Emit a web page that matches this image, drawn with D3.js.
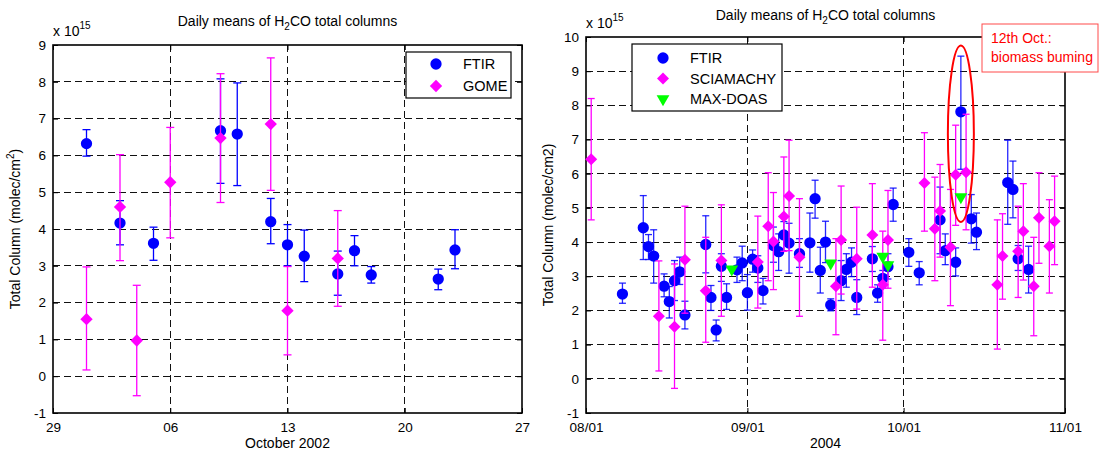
<!DOCTYPE html>
<html>
<head>
<meta charset="utf-8">
<script src="https://cdn.jsdelivr.net/npm/d3@7"></script>
<style>
  body { margin: 0; background: #fff; }
  svg { display: block; font-family: "Liberation Sans", Arial, Helvetica, sans-serif; }
  .grid line { stroke: #111; stroke-dasharray: 7,4; stroke-width: 1; shape-rendering: crispEdges; }
  .axis path, .axis line { stroke: #000; }
  .axis text { font-size: 13.5px; fill: #000; }
</style>
</head>
<body>
<div id="chart"></div>
<script>
// ---- left panel: October 2002 ----
var octFtirDates = ['2002-10-01','2002-10-03','2002-10-05','2002-10-09','2002-10-10','2002-10-12','2002-10-13','2002-10-14','2002-10-16','2002-10-17','2002-10-18','2002-10-22','2002-10-23'];
var octFtirValues = [6.32, 4.16, 3.61, 6.67, 6.58, 4.20, 3.57, 3.26, 2.78, 3.41, 2.75, 2.64, 3.43];
var octFtirLow    = [5.98, 3.57, 3.15, 5.24, 5.18, 3.60, 3.00, 2.57, 2.20, 3.00, 2.53, 2.35, 2.92];
var octFtirHigh   = [6.70, 4.77, 4.05, 8.08, 7.97, 4.83, 4.12, 3.97, 3.40, 3.82, 2.98, 2.91, 3.98];

var gomeDates  = ['2002-10-01','2002-10-03','2002-10-04','2002-10-06','2002-10-09','2002-10-12','2002-10-13','2002-10-16'];
var gomeValues = [1.55, 4.60, 0.97, 5.27, 6.47, 6.85, 1.78, 3.20];
var gomeLow    = [0.17, 3.14, -0.53, 3.76, 4.72, 5.05, 0.58, 1.90];
var gomeHigh   = [2.97, 6.02, 2.47, 6.76, 8.22, 8.65, 2.98, 4.50];

var octTicks = ['2002-09-29','2002-10-06','2002-10-13','2002-10-20','2002-10-27'];
var octYTicks = [-1, 0, 1, 2, 3, 4, 5, 6, 7, 8, 9];

// ---- right panel: Aug-Oct 2004 ----
var ftirDates = ['2004-08-08','2004-08-12','2004-08-13','2004-08-14','2004-08-16','2004-08-17','2004-08-18','2004-08-19','2004-08-20',
  '2004-08-24','2004-08-25','2004-08-26','2004-08-27','2004-08-28','2004-08-30','2004-08-31','2004-09-01','2004-09-02','2004-09-03',
  '2004-09-04','2004-09-06','2004-09-07','2004-09-08','2004-09-09','2004-09-11','2004-09-13','2004-09-14','2004-09-15','2004-09-16',
  '2004-09-17','2004-09-19','2004-09-20','2004-09-21','2004-09-22','2004-09-25','2004-09-26','2004-09-27','2004-09-28','2004-09-29',
  '2004-10-02','2004-10-04','2004-10-08','2004-10-09','2004-10-11','2004-10-12','2004-10-14','2004-10-15','2004-10-21','2004-10-22',
  '2004-10-23','2004-10-25'];
var ftirValues = [2.48, 4.42, 3.87, 3.59, 2.71, 2.26, 2.87, 3.13, 1.87,
  3.93, 2.38, 1.43, 3.29, 2.38, 3.19, 3.39, 2.52, 3.50, 3.24,
  2.58, 3.90, 3.72, 4.21, 3.97, 3.66, 3.98, 5.27, 3.17, 4.00,
  2.16, 2.87, 3.20, 3.41, 2.38, 3.51, 2.51, 2.94, 3.28, 5.10,
  3.70, 3.10, 4.65, 3.75, 3.41, 7.81, 4.68, 4.29, 5.74, 5.54,
  3.51, 3.20];
var ftirLow = [2.21, 3.49, 3.49, 2.80, 2.40, 1.78, 2.29, 2.76, 1.46,
  3.10, 2.00, 1.11, 2.85, 2.03, 2.82, 2.87, 2.01, 3.12, 2.82,
  2.19, 3.41, 3.17, 3.75, 3.09, 3.26, 3.12, 4.70, 2.51, 3.40,
  1.99, 2.29, 2.68, 2.99, 1.88, 3.14, 2.24, 2.66, 2.92, 4.61,
  3.29, 2.75, 3.66, 3.34, 3.01, 6.13, 3.97, 3.78, 4.52, 4.71,
  3.17, 2.51];
var ftirHigh = [2.80, 5.36, 4.22, 4.36, 3.07, 2.70, 3.46, 3.56, 2.27,
  4.77, 2.73, 1.72, 3.66, 2.78, 3.56, 3.88, 3.05, 3.77, 3.60,
  2.94, 4.44, 4.24, 4.60, 4.55, 4.10, 4.85, 5.81, 3.85, 4.61,
  2.34, 3.46, 3.66, 3.83, 2.90, 3.87, 2.75, 3.17, 3.66, 5.58,
  4.10, 3.43, 5.61, 4.24, 3.83, 9.44, 5.39, 4.85, 6.98, 6.37,
  3.90, 3.88];

var sciaDates = ['2004-08-02','2004-08-15','2004-08-18','2004-08-20','2004-08-24','2004-08-27','2004-09-03','2004-09-05','2004-09-06',
  '2004-09-08','2004-09-09','2004-09-11','2004-09-18','2004-09-19','2004-09-22','2004-09-25','2004-09-27','2004-09-28','2004-10-05',
  '2004-10-07','2004-10-08','2004-10-10','2004-10-11','2004-10-13','2004-10-19','2004-10-20','2004-10-23','2004-10-24','2004-10-26',
  '2004-10-27','2004-10-29','2004-10-30'];
var sciaValues = [6.42, 1.83, 1.52, 3.48, 2.58, 3.46, 3.42, 4.46, 4.02,
  4.75, 5.35, 3.56, 2.71, 4.06, 3.51, 4.21, 2.75, 4.06, 5.73,
  4.39, 4.91, 3.85, 5.97, 6.04, 2.75, 3.59, 3.73, 4.32, 2.71,
  4.71, 3.88, 4.61];
var sciaLow = [4.65, 0.23, -0.28, 1.92, 1.07, 1.83, 2.07, 2.87, 2.61,
  3.73, 3.75, 1.83, 1.29, 2.48, 2.04, 2.68, 1.13, 2.65, 4.32,
  2.87, 3.56, 2.14, 4.49, 4.36, 0.87, 2.33, 2.38, 2.89, 1.26,
  3.38, 2.51, 3.34];
var sciaHigh = [8.20, 3.45, 3.36, 5.05, 4.14, 5.09, 4.76, 6.03, 5.45,
  6.49, 6.98, 5.27, 4.10, 5.64, 5.02, 5.71, 4.32, 5.51, 7.20,
  5.90, 6.27, 5.54, 7.42, 7.74, 4.65, 4.83, 5.05, 5.71, 4.14,
  6.03, 5.24, 5.93];

var doasDates  = ['2004-08-29','2004-09-17','2004-09-27','2004-09-28','2004-10-12'];
var doasValues = [3.21, 3.38, 3.58, 3.33, 5.32];

var monthTicks = ['2004-08-01','2004-09-01','2004-10-01','2004-11-01'];
var seasonYTicks = [-1, 0, 1, 2, 3, 4, 5, 6, 7, 8, 9, 10];

var BLUE = '#0000ff', MAGENTA = '#ff00ff', GREEN = '#00ff00', RED = '#ff0000';
var parse = d3.utcParse('%Y-%m-%d');

var svg = d3.select('#chart').append('svg')
    .attr('width', 1099)
    .attr('height', 450);

function series(dates, values, low, high) {
    return dates.map(function(d, i) {
        return {date: parse(d), value: values[i], low: low ? low[i] : null, high: high ? high[i] : null};
    });
}

function drawPanel(p) {
    var left = p.left, top = p.top, width = p.width, height = p.height;
    var x = d3.scaleUtc().domain(p.xDomain.map(parse)).range([0, width]);
    var y = d3.scaleLinear().domain(p.yDomain).range([height, 0]);

    var g = svg.append('g').attr('transform', 'translate(' + left + ',' + top + ')');

    // dashed grid
    g.append('g').attr('class', 'grid')
        .selectAll('line.h')
        .data(p.yTicks.filter(function(t) { return t > p.yDomain[0] && t < p.yDomain[1]; }))
        .enter().append('line')
        .attr('x1', 0).attr('x2', width)
        .attr('y1', function(d) { return y(d); }).attr('y2', function(d) { return y(d); });
    var xt = p.xTicks.map(parse);
    g.append('g').attr('class', 'grid')
        .selectAll('line.v')
        .data(xt.slice(1, -1))
        .enter().append('line')
        .attr('y1', 0).attr('y2', height)
        .attr('x1', function(d) { return x(d); }).attr('x2', function(d) { return x(d); });

    // axes with inward ticks on all four sides
    g.append('g').attr('class', 'axis')
        .attr('transform', 'translate(0,' + height + ')')
        .call(d3.axisBottom(x).tickValues(xt).tickFormat(d3.utcFormat(p.xFormat)).tickSizeInner(-5).tickSizeOuter(0).tickPadding(9));
    g.append('g').attr('class', 'axis')
        .call(d3.axisTop(x).tickValues(xt).tickFormat('').tickSizeInner(-5).tickSizeOuter(0));
    g.append('g').attr('class', 'axis')
        .call(d3.axisLeft(y).tickValues(p.yTicks).tickFormat(function(d) { return String(d); }).tickSizeInner(-5).tickSizeOuter(0).tickPadding(7));
    g.append('g').attr('class', 'axis')
        .attr('transform', 'translate(' + width + ',0)')
        .call(d3.axisRight(y).tickValues(p.yTicks).tickFormat('').tickSizeInner(-5).tickSizeOuter(0));
    g.selectAll('.axis .domain').remove();
    g.append('rect')
        .attr('width', width).attr('height', height)
        .attr('fill', 'none').attr('stroke', '#000').attr('stroke-width', 1.6);

    // data
    p.sets.forEach(function(s) {
        var data = series(s.dates, s.values, s.low, s.high);
        var sg = g.append('g');
        if (s.low) {
            var eb = sg.selectAll('g.eb').data(data).enter().append('g')
                .attr('stroke', s.color).attr('stroke-width', 1.3).attr('stroke-opacity', s.barOpacity || 1);
            eb.append('line')
                .attr('x1', function(d) { return x(d.date); }).attr('x2', function(d) { return x(d.date); })
                .attr('y1', function(d) { return y(d.low); }).attr('y2', function(d) { return y(d.high); });
            ['low', 'high'].forEach(function(k) {
                eb.append('line')
                    .attr('x1', function(d) { return x(d.date) - p.cap; }).attr('x2', function(d) { return x(d.date) + p.cap; })
                    .attr('y1', function(d) { return y(d[k]); }).attr('y2', function(d) { return y(d[k]); });
            });
        }
        sg.selectAll('path.m').data(data).enter().append('path')
            .attr('d', d3.symbol().type(s.symbol).size(s.size))
            .attr('transform', function(d) {
                return 'translate(' + x(d.date) + ',' + y(d.value) + ')' + (s.rotate ? ' rotate(' + s.rotate + ')' : '');
            })
            .attr('fill', s.color);
    });

    // title
    var title = g.append('text')
        .attr('x', width / 2).attr('y', p.titleY)
        .attr('text-anchor', 'middle').style('font-size', '14px');
    title.append('tspan').text('Daily means of H');
    title.append('tspan').text('2').attr('dy', 4).style('font-size', '10px');
    title.append('tspan').text('CO total columns').attr('dy', -4);

    // exponent
    var ex = g.append('text').attr('x', 0).attr('y', -9).style('font-size', '14px');
    ex.append('tspan').text('x 10');
    ex.append('tspan').text('15').attr('dy', -7).style('font-size', '10px');

    // axis labels
    g.append('text')
        .attr('x', width / 2).attr('y', height + 35)
        .attr('text-anchor', 'middle').style('font-size', '14px')
        .text(p.xLabel);
    var yl = g.append('text')
        .attr('transform', 'translate(' + p.yLabelX + ',' + height / 2 + ') rotate(-90)')
        .attr('text-anchor', 'middle').style('font-size', '14px');
    yl.append('tspan').text(p.yLabel);
    if (p.yLabelSup) {
        yl.append('tspan').text('2').attr('dy', -6).style('font-size', '10px');
        yl.append('tspan').text(')').attr('dy', 6);
    }

    // legend
    var L = p.legend;
    var lg = g.append('g').attr('transform', 'translate(' + L.x + ',' + L.y + ')');
    lg.append('rect').attr('width', L.w).attr('height', L.h)
        .attr('fill', '#fff').attr('stroke', '#000').attr('stroke-width', 1.2);
    p.sets.forEach(function(s, i) {
        var cy = L.first + i * L.step;
        lg.append('path')
            .attr('d', d3.symbol().type(s.symbol).size(s.size))
            .attr('transform', 'translate(' + L.mx + ',' + cy + ')' + (s.rotate ? ' rotate(' + s.rotate + ')' : ''))
            .attr('fill', s.color);
        lg.append('text').attr('x', L.tx).attr('y', cy).attr('dy', '0.36em')
            .style('font-size', '14.5px').text(s.name);
    });

    return {g: g, x: x, y: y};
}

drawPanel({
    left: 53, top: 45, width: 469, height: 368,
    xDomain: ['2002-09-29', '2002-10-27'], xTicks: octTicks, xFormat: '%d',
    yDomain: [-1, 9], yTicks: octYTicks,
    cap: 4, titleY: -19, yLabelX: -33,
    xLabel: 'October 2002', yLabel: 'Total Column (molec/cm', yLabelSup: true,
    legend: {x: 353, y: 7, w: 105, h: 46, first: 12, step: 22, mx: 30, tx: 57},
    sets: [
        {name: 'FTIR', dates: octFtirDates, values: octFtirValues, low: octFtirLow, high: octFtirHigh, color: BLUE, symbol: d3.symbolCircle, size: 100},
        {name: 'GOME', dates: gomeDates, values: gomeValues, low: gomeLow, high: gomeHigh, color: MAGENTA, symbol: d3.symbolSquare, size: 76, rotate: 45}
    ]
});

var right = drawPanel({
    left: 586, top: 37, width: 479, height: 376,
    xDomain: ['2004-08-01', '2004-11-01'], xTicks: monthTicks, xFormat: '%m/%d',
    yDomain: [-1, 10], yTicks: seasonYTicks,
    cap: 3.5, titleY: -17, yLabelX: -33,
    xLabel: '2004', yLabel: 'Total Column (molec/cm2)', yLabelSup: false,
    legend: {x: 46, y: 7, w: 150, h: 67, first: 14, step: 20.5, mx: 31, tx: 58},
    sets: [
        {name: 'FTIR', dates: ftirDates, values: ftirValues, low: ftirLow, high: ftirHigh, color: BLUE, symbol: d3.symbolCircle, size: 100, barOpacity: 0.85},
        {name: 'SCIAMACHY', dates: sciaDates, values: sciaValues, low: sciaLow, high: sciaHigh, color: MAGENTA, symbol: d3.symbolSquare, size: 72, rotate: 45},
        {name: 'MAX-DOAS', dates: doasDates, values: doasValues, color: GREEN, symbol: d3.symbolTriangle, size: 70, rotate: 180}
    ]
});

// biomass burning highlight around 12 Oct 2004
var ellDate = parse('2004-10-12');
right.g.append('ellipse')
    .attr('cx', right.x(ellDate)).attr('cy', right.y(7.17))
    .attr('rx', 13).attr('ry', right.y(4.59) - right.y(7.17))
    .attr('fill', 'none').attr('stroke', RED).attr('stroke-width', 2);

var note = svg.append('g').attr('transform', 'translate(982,24)');
note.append('rect').attr('width', 116).attr('height', 48)
    .attr('fill', '#fff').attr('stroke', '#ff4a4a').attr('stroke-width', 1);
note.append('text').attr('x', 9).attr('y', 19).style('font-size', '14px').attr('fill', RED).text('12th Oct.:');
note.append('text').attr('x', 9).attr('y', 38).style('font-size', '14px').attr('fill', RED).text('biomass buming');
</script>
</body>
</html>
